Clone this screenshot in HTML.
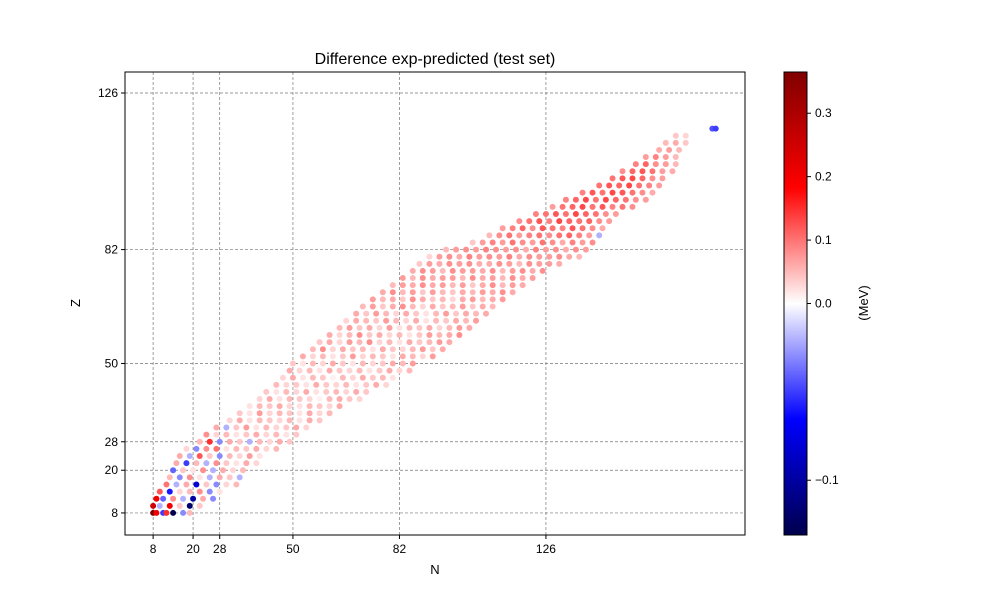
<!DOCTYPE html>
<html><head><meta charset="utf-8">
<style>
body{margin:0;background:#fff;}
svg text{font-family:"Liberation Sans","DejaVu Sans",sans-serif;}
</style></head>
<body>
<svg id="chart" width="1000" height="600" viewBox="0 0 1000 600" xmlns="http://www.w3.org/2000/svg">
<defs>
<linearGradient id="cbgrad" x1="0" y1="1" x2="0" y2="0">
<stop offset="0" stop-color="#00004c"/>
<stop offset="0.25" stop-color="#0000ff"/>
<stop offset="0.5" stop-color="#ffffff"/>
<stop offset="0.75" stop-color="#ff0000"/>
<stop offset="1" stop-color="#800000"/>
</linearGradient>
</defs>
<text x="435" y="64" font-size="16" text-anchor="middle">Difference exp-predicted (test set)</text>
<g id="grid"></g>
<g id="points"></g>
<rect x="125" y="72" width="620" height="463" fill="none" stroke="#000" stroke-width="1"/>
<g id="ticks"></g>
<text x="435" y="574" font-size="13" text-anchor="middle">N</text>
<text x="80" y="303" font-size="13" text-anchor="middle" transform="rotate(-90 80 303)">Z</text>
<rect x="784" y="72" width="23" height="463" fill="url(#cbgrad)" stroke="#000" stroke-width="1"/>
<g id="cbticks"></g>
<text x="868" y="303" font-size="13" text-anchor="middle" transform="rotate(-90 868 303)">(MeV)</text>
</svg>
<script>
const tickVals=[8,20,28,50,82,126];
const cbTicks=[-0.1,0.0,0.1,0.2,0.3];
const cbTickLabels=["\u22120.1","0.0","0.1","0.2","0.3"];
const zRows=[8,10,12,14,16,18,20,22,24,26,28,30,32,34,36,38,40,42,44,46,48,50,52,54,56,58,60,62,64,66,68,70,72,74,76,78,80,82,84,86,88,90,92,94,96,98,100,102,104,106,108,110,112,114,116];
const nRows=[
[8,9,11,12,14,17,19],
[8,10,13,16,19,22],
[9,11,14,17,20,23,26],
[10,13,16,19,22,25,28],
[12,15,18,21,24,27,30,33],
[13,16,19,22,25,28,31,34],
[14,17,20,23,26,29,32,35],
[15,18,21,24,27,30,33,36,39],
[16,19,22,25,28,31,34,37,40],
[18,21,24,27,30,33,36,39,42,45],
[22,25,28,31,34,37,40,43,46,49],
[24,27,30,33,36,39,42,45,48,51],
[27,30,33,36,39,42,45,48,51,54],
[31,34,37,40,43,46,49,52,55,58],
[34,37,40,43,46,49,52,55,58,61],
[37,40,43,46,49,52,55,58,61,64],
[40,43,46,49,52,55,58,61,64,67,70],
[42,45,48,51,54,57,60,63,66,69,72],
[45,48,51,54,57,60,63,66,69,72,75,78],
[47,50,53,56,59,62,65,68,71,74,77,80],
[49,52,55,58,61,64,67,70,73,76,79,82,85],
[50,53,56,59,62,65,68,71,74,77,80,83,86],
[53,56,59,62,65,68,71,74,77,80,83,86,89,92],
[56,59,62,65,68,71,74,77,80,83,86,89,92,95],
[58,61,64,67,70,73,76,79,82,85,88,91,94,97],
[61,64,67,70,73,76,79,82,85,88,91,94,97,100],
[64,67,70,73,76,79,82,85,88,91,94,97,100,103],
[66,69,72,75,78,81,84,87,90,93,96,99,102,105],
[69,72,75,78,81,84,87,90,93,96,99,102,105,108],
[71,74,77,80,83,86,89,92,95,98,101,104,107,110],
[74,77,80,83,86,89,92,95,98,101,104,107,110,113],
[77,80,83,86,89,92,95,98,101,104,107,110,113,116],
[80,83,86,89,92,95,98,101,104,107,110,113,116,119],
[83,86,89,92,95,98,101,104,107,110,113,116,119,122],
[86,89,92,95,98,101,104,107,110,113,116,119,122,125],
[88,91,94,97,100,103,106,109,112,115,118,121,124,127,130],
[91,94,97,100,103,106,109,112,115,118,121,124,127,130,133,136],
[96,99,102,105,108,111,114,117,120,123,126,129,132,135,138],
[104,107,110,113,116,119,122,125,128,131,134,137,140],
[109,112,115,118,121,124,127,130,133,136,139,142],
[113,116,119,122,125,128,131,134,137,140,143],
[118,121,124,127,130,133,136,139,142,145],
[123,126,129,132,135,138,141,144,147],
[128,131,134,137,140,143,146,149,152],
[132,135,138,141,144,147,150,153,156],
[137,140,143,146,149,152,155,158],
[142,145,148,151,154,157,160],
[146,149,152,155,158,161],
[149,152,155,158,161,164],
[153,156,159,162,165],
[156,159,162,165],
[160,163,166],
[162,165,168],
[165,168],
[176,177]];
const dRows=[
[.36,.2,-.05,.15,-.13,-.03,.05],
[.25,-.02,.2,.04,-.12,.04],
[.2,-.04,.08,-.02,-.1,.06,-.03],
[.12,-.06,.03,.05,.08,-.03,.02],
[.1,-.02,.06,-.08,.04,-.03,.03,.05],
[.05,-.03,.08,.02,-.02,.06,.04,-.02],
[-.04,.04,.02,.08,-.02,.06,.03,.05],
[.06,-.05,.05,-.02,.08,.04,.02,.06,.03],
[.06,-.02,.12,.04,-.03,.05,.03,.07,.02],
[.03,-.03,.08,.1,.02,.05,.04,.06,.03,.05],
[.05,.15,-.03,.06,.04,-.02,.05,.03,.06,.04],
[.08,.03,.05,.02,.04,.06,.03,.05,.02,.04],
[.06,-.02,.04,.07,.02,.05,.03,.04,.06,.03],
[.03,.06,.02,.05,.04,.03,.05,.02,.06,.04],
[.04,.02,.07,.03,.05,.04,.02,.06,.03,.05],
[.02,.05,.04,.06,.03,.02,.05,.04,.03,.06],
[.03,.06,.02,.05,.04,.03,.01,.05,.06,.04,.03],
[.04,.02,.05,.03,.06,.02,.04,.05,.03,.06,.04],
[.05,.03,.04,.02,.06,.04,.03,.05,.02,.04,.06,.03],
[.03,.06,.02,.05,.04,.01,.05,.03,.06,.04,.05,.02],
[.06,.03,.05,.02,.06,.04,.03,.05,.02,.04,.06,.03,.05],
[.04,.02,.05,.03,.06,.04,.02,.05,.03,.04,.06,.05,.07],
[.06,.03,.05,.02,.04,.07,.03,.05,.04,.02,.06,.05,.03,.07],
[.05,.08,.03,.06,.04,.05,.02,.06,.04,.03,.05,.07,.04,.06],
[.04,.06,.03,.07,.05,.08,.03,.05,.02,.06,.04,.05,.07,.06],
[.06,.03,.05,.08,.04,.06,.03,.05,.02,.04,.07,.05,.06,.08],
[.05,.07,.04,.06,.03,.07,.02,.05,.04,.06,.03,.05,.07,.06],
[.03,.06,.05,.04,.07,.05,.03,.06,.02,.05,.04,.06,.05,.07],
[.06,.04,.07,.05,.03,.06,.04,.02,.05,.07,.04,.06,.05,.06],
[.05,.07,.04,.06,.08,.05,.03,.06,.04,.05,.07,.04,.06,.05],
[.07,.05,.06,.04,.08,.06,.04,.05,.03,.06,.07,.05,.06,.07],
[.06,.08,.05,.07,.04,.07,.05,.04,.06,.05,.07,.06,.08,.06],
[.05,.07,.06,.08,.06,.07,.05,.07,.04,.06,.08,.05,.07,.06],
[.07,.05,.08,.06,.07,.07,.05,.08,.06,.07,.05,.08,.06,.07],
[.06,.08,.07,.05,.08,.07,.07,.06,.08,.05,.07,.08,.06,.08],
[.04,.07,.06,.08,.07,.08,.06,.06,.08,.07,.05,.08,.07,.07,.06],
[.03,.07,.08,.06,.09,.07,.08,.07,.09,.06,.08,.07,.07,.08,.06,.05],
[.05,.07,.08,.07,.09,.08,.07,.08,.06,.09,.07,.08,.06,.08,.07],
[.04,.07,.09,.07,.1,.08,.07,.1,.08,.06,.09,.07,.08],
[.05,.08,.1,.07,.09,.1,.08,.1,.11,.09,.07,-.02],
[.07,.09,.11,.08,.12,.1,.09,.12,.1,.08,.06],
[.08,.1,.12,.09,.13,.11,.1,.11,.08,.07],
[.09,.1,.12,.1,.13,.11,.1,.08,.07],
[.07,.1,.11,.13,.1,.12,.09,.1,.08],
[.09,.11,.13,.1,.13,.11,.1,.08,.07],
[.09,.12,.1,.13,.12,.1,.08,.06],
[.1,.12,.11,.13,.1,.09,.07],
[.1,.12,.13,.11,.08,.07],
[.08,.11,.12,.1,.07,.06],
[.09,.11,.08,.07,.05],
[.07,.09,.07,.05],
[.06,.07,.05],
[.05,.06,.04],
[.04,.03],
[-.045,-.05]];

const NS="http://www.w3.org/2000/svg";
const X0=125,X1=745,Y0=72,Y1=535;
const nMin=-0.45,nMax=185.8,zMin=1.8,zMax=131.9;
function xs(n){return X0+(n-nMin)/(nMax-nMin)*(X1-X0);}
function ys(z){return Y1-(z-zMin)/(zMax-zMin)*(Y1-Y0);}
const vMin=-0.131,vMax=0.365;
function norm(v){return v<0?0.5*(v-vMin)/(0-vMin):0.5+0.5*v/vMax;}
function cby(v){return Y1-norm(v)*(Y1-Y0);}
function lerp(a,b,t){return a+(b-a)*t;}
function seismic(t){
 const st=[[0,0,0,76],[0.25,0,0,255],[0.5,255,255,255],[0.75,255,0,0],[1,128,0,0]];
 t=Math.max(0,Math.min(1,t));
 for(let i=0;i<4;i++){if(t<=st[i+1][0]){const u=(t-st[i][0])/(st[i+1][0]-st[i][0]);
 return `rgb(${Math.round(lerp(st[i][1],st[i+1][1],u))},${Math.round(lerp(st[i][2],st[i+1][2],u))},${Math.round(lerp(st[i][3],st[i+1][3],u))})`;}}
 return "rgb(128,0,0)";
}
const grid=document.getElementById('grid'),ticks=document.getElementById('ticks');
tickVals.forEach(v=>{
 const gx=document.createElementNS(NS,'line');
 
 
 gx.setAttribute('x1',xs(v));gx.setAttribute('x2',xs(v));gx.setAttribute('y1',Y0);gx.setAttribute('y2',Y1);
 gx.setAttribute('stroke','#777');gx.setAttribute('stroke-width','0.7');gx.setAttribute('stroke-dasharray','3,2');
 grid.appendChild(gx);
 const gy=document.createElementNS(NS,'line');
 
 
 gy.setAttribute('y1',ys(v));gy.setAttribute('y2',ys(v));gy.setAttribute('x1',X0);gy.setAttribute('x2',X1);
 gy.setAttribute('stroke','#777');gy.setAttribute('stroke-width','0.7');gy.setAttribute('stroke-dasharray','3,2');
 grid.appendChild(gy);
 const tx=document.createElementNS(NS,'line');
 
 
 tx.setAttribute('x1',xs(v));tx.setAttribute('x2',xs(v));tx.setAttribute('y1',Y1);tx.setAttribute('y2',Y1+4);tx.setAttribute('stroke','#000');
 ticks.appendChild(tx);
 const lx=document.createElementNS(NS,'text');
 
 
 lx.setAttribute('x',xs(v));lx.setAttribute('y',Y1+18);lx.setAttribute('font-size','12');lx.setAttribute('text-anchor','middle');
 lx.textContent=v;ticks.appendChild(lx);
 const ty=document.createElementNS(NS,'line');
 
 
 ty.setAttribute('y1',ys(v));ty.setAttribute('y2',ys(v));ty.setAttribute('x1',X0-4);ty.setAttribute('x2',X0);ty.setAttribute('stroke','#000');
 ticks.appendChild(ty);
 const ly=document.createElementNS(NS,'text');
 
 
 ly.setAttribute('x',X0-7);ly.setAttribute('y',ys(v)+4);ly.setAttribute('font-size','12');ly.setAttribute('text-anchor','end');
 ly.textContent=v;ticks.appendChild(ly);
});
const pts=document.getElementById('points');
zRows.forEach((z,i)=>{
 nRows[i].forEach((n,j)=>{
  const v=(dRows[i][j]!==undefined)?dRows[i][j]:0.04;
  const c=document.createElementNS(NS,'circle');
  
  
  c.setAttribute('cx',xs(n));c.setAttribute('cy',ys(z));c.setAttribute('r','3');
  c.setAttribute('fill',seismic(norm(v)));
  pts.appendChild(c);
 });
});
const cbt=document.getElementById('cbticks');
cbTicks.forEach((v,i)=>{
 const t=document.createElementNS(NS,'line');
 
 
 t.setAttribute('x1',807);t.setAttribute('x2',811);t.setAttribute('y1',cby(v));t.setAttribute('y2',cby(v));t.setAttribute('stroke','#000');
 cbt.appendChild(t);
 const l=document.createElementNS(NS,'text');
 
 
 l.setAttribute('x',815);l.setAttribute('y',cby(v)+4);l.setAttribute('font-size','12');
 l.textContent=cbTickLabels[i];cbt.appendChild(l);
});
</script>
</body></html>
